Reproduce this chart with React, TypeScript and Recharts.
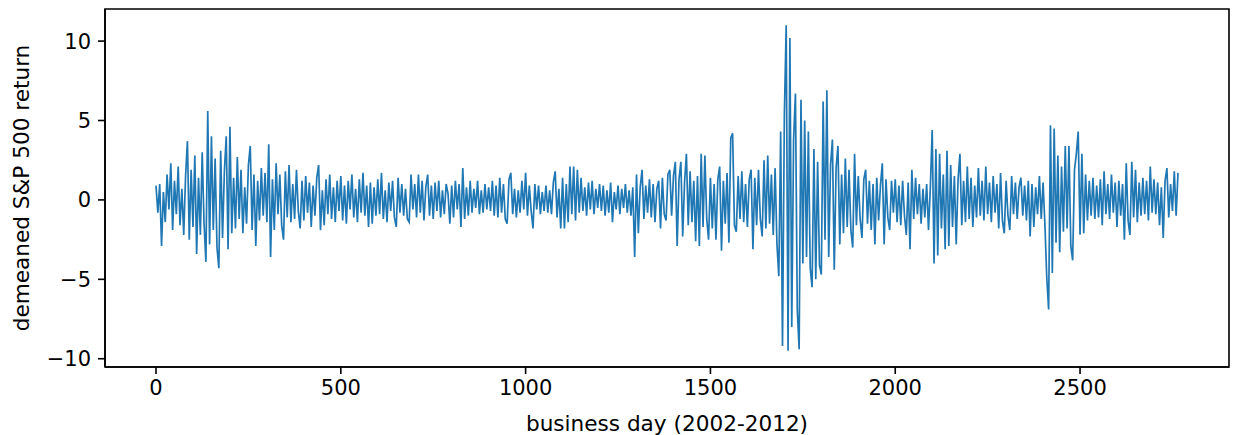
import { LineChart, Line, XAxis, YAxis, Label, ReferenceArea } from "recharts";

// one sample every 5 business days
const STEP = 5;

const returnsDays0to499 = [
  0.9, -0.8, 1.0, -2.9, 0.5, -1.4, 1.6, -0.6, 2.3, -1.9, 1.2, -0.9, 2.1, -1.6, 0.7, -2.2, 1.5, 3.7, -2.5, 1.9,
  -1.7, 2.8, -3.4, 1.4, -2.2, 3.0, -1.5, -3.9, 5.6, -2.8, 4.0, -1.9, 2.6, -3.0, -4.3, 3.1, -2.4, 1.8, 4.0, -3.1,
  4.6, -2.1, 1.4, -1.8, 2.7, -1.2, 1.9, -2.1, 0.8, -1.5, 2.2, 3.4, -1.9, 1.6, -2.9, 1.2, -1.3, 2.0, -1.0, 1.7,
  -1.4, 3.5, -3.6, 1.3, -1.9, 2.3, -0.9, 1.6, -1.6, -2.5, 1.8, -1.1, 2.2, -1.4, 1.0, -1.2, 1.9, -0.7, -1.8, 1.2,
  -1.3, 1.5, -0.8, 1.1, -1.7, 0.9, -1.0, 1.4, 2.2, -1.9, 0.6, -1.6, 1.3, -0.9, 1.6, -1.2, 0.8, -1.4, 1.2, -0.7,
];

const returnsDays500to999 = [
  1.5, -1.3, 0.9, -1.5, 1.2, -0.6, 1.6, -1.1, 0.7, -1.4, 1.3, -0.8, 1.7, -1.0, 0.9, -1.7, 1.1, -1.5, 0.8, -1.0,
  1.3, -0.9, 1.7, -1.2, 0.6, -1.4, 1.1, -0.7, 1.2, -1.1, -1.7, 1.4, -0.8, 1.0, -1.0, 0.7, -1.2, -1.4, 1.6, -0.6,
  1.0, -1.1, 1.6, -0.8, 1.2, -1.3, 0.8, 1.6, -1.0, 0.9, -1.2, 1.1, -0.7, 1.2, -1.1, 0.6, -0.9, 1.0, 0.4, -1.5,
  0.9, -1.1, 1.2, -0.6, 1.0, -1.7, 2.0, -1.2, 0.8, -1.0, 1.2, -0.8, 0.7, -0.5, 1.2, -0.9, 0.6, -0.8, 1.0, -0.6,
  0.8, -0.7, 1.2, -1.0, 0.9, -1.1, 1.4, -0.8, 1.0, -1.2, -1.5, 1.3, 1.7, -0.9, 0.7, -1.1, 0.6, -0.8, 1.2, -0.6,
];

const returnsDays1000to1499 = [
  1.7, -1.0, 0.9, -0.7, -1.8, 1.0, -0.6, 0.9, -0.9, 0.5, -0.7, 0.9, -0.8, 0.6, -0.9, 1.1, 1.8, -1.1, 0.7, -1.8,
  1.4, -1.8, 1.0, -1.4, 2.1, -0.9, 2.1, -1.3, 1.9, -0.8, 1.4, -0.7, 0.8, -1.0, 1.1, -0.6, 1.2, -0.9, 0.7, -0.5,
  1.0, -0.7, 0.9, -1.0, 0.6, -0.8, 1.1, -1.4, 0.5, -0.6, 0.9, -0.9, 0.7, -0.5, 1.0, -0.8, 0.6, -1.0, 0.8, -3.6,
  1.6, -2.1, 0.8, 1.9, -1.2, 0.9, -0.8, 1.3, -1.1, 1.0, -1.4, 0.7, 1.2, -1.8, 1.4, -0.9, -1.3, 1.6, 1.9, -1.0,
  1.5, 2.4, -2.9, 1.3, 2.4, -2.3, 1.1, 2.9, -1.6, 1.8, -1.4, 1.2, -2.6, 1.5, -2.9, 2.9, -1.7, 2.8, -1.2, -2.5,
];

const returnsDays1500to1999 = [
  1.4, -1.8, 1.0, -2.5, 1.3, 2.1, -3.2, 1.2, -1.5, 1.7, -2.7, 3.9, 4.2, -1.6, -2.0, 1.5, -1.2, 1.8, -1.4, 1.0,
  -1.7, 1.3, 1.9, -3.1, 1.4, -1.6, 1.9, -1.2, -2.3, 2.5, -1.8, 2.8, -1.5, 1.6, -2.2, 2.0, -2.8, -4.8, 4.3, -9.2,
  5.3, 11.0, -9.5, 10.2, -8.0, 3.8, 6.7, -6.9, -9.4, 6.3, -4.0, 5.0, -3.6, 4.3, -4.3, -5.5, 3.2, -5.0, 2.4, -4.1,
  -4.7, 6.2, -2.5, 6.9, -3.6, 2.2, 3.8, -4.4, 2.0, 3.4, -2.8, 1.6, -2.1, 2.6, -1.7, 1.9, -1.9, -3.0, 2.9, -1.6,
  1.5, -1.2, -2.4, 1.3, 1.9, -1.5, 1.2, -1.9, 1.0, -2.8, 1.4, -1.3, 0.9, 2.3, -2.8, 1.3, -1.1, -1.9, 1.2, -0.8,
];

const returnsDays2000to2499 = [
  1.3, -1.4, 0.9, -1.6, 1.2, -1.0, -2.2, 1.1, -3.1, 1.9, -1.2, 1.4, -0.9, 1.0, -1.5, 0.7, -1.1, 1.0, -1.9, 0.8,
  4.4, -4.0, 3.2, -3.5, 2.9, -1.8, 1.6, -3.1, 3.1, -2.9, 2.2, -1.7, 1.5, -2.8, 1.3, 2.9, -1.6, 1.2, -1.4, 2.1,
  -1.2, 1.4, -1.7, 0.9, -1.1, 2.0, -1.0, 1.2, -1.3, 2.1, -0.9, 1.1, -1.4, 1.5, -0.8, 1.0, -1.8, 1.7, -1.3, -2.1,
  1.2, -1.0, -1.9, 1.5, -0.9, 1.1, -1.2, 0.8, 1.4, -1.0, 0.9, -1.3, 1.2, -2.3, 1.0, -1.7, 0.8, -0.9, 1.5, -1.2,
  1.1, -1.6, -4.9, -6.9, 4.7, -4.6, 4.5, -2.7, 2.8, -3.3, 2.1, -2.0, 3.4, -1.8, 3.4, -2.9, -3.8, 1.9, 2.9, 4.3,
];

const returnsDays2500to2765 = [
  -2.2, 2.9, -2.1, 1.6, -1.3, 1.2, -1.0, 1.4, -1.2, 0.9, -1.1, 1.3, -1.6, 1.8, -0.9, 1.0, -1.2, 1.6, -0.8, 1.1,
  -1.7, 1.2, -1.0, 1.0, -2.5, 2.3, -1.3, -2.2, 2.4, -1.1, 1.9, -1.4, 1.1, -1.0, 1.4, -0.9, 1.2, -1.3, 2.1, -0.8,
  1.3, -0.9, 1.1, -1.6, 0.8, -2.4, 1.2, 2.0, -1.1, 1.0, -0.7, 1.8, -1.0, 1.7,
];

const xTicks = [0, 500, 1000, 1500, 2000, 2500];
const yTicks = [-10, -5, 0, 5, 10];

const allReturns = [
  ...returnsDays0to499,
  ...returnsDays500to999,
  ...returnsDays1000to1499,
  ...returnsDays1500to1999,
  ...returnsDays2000to2499,
  ...returnsDays2500to2765,
];

const data = allReturns.map((r, i) => ({ day: i * STEP, r }));

const X_DOMAIN: [number, number] = [-138, 2903];
const Y_DOMAIN: [number, number] = [-10.52, 12.02];

const FONT = "DejaVu Sans";
const minus = (v: number) => String(v).replace("-", "\u2212");

export default function App() {
  const tickStyle = { fill: "#000", fontSize: 21, fontFamily: FONT };
  return (
    <div style={{ position: "absolute", left: 0, top: 0, background: "#fff" }}>
      <LineChart
        width={1233}
        height={435}
        data={data}
        margin={{ top: 9, right: 4, bottom: 38, left: 0 }}
        style={{ fontFamily: FONT }}
      >
        <XAxis
          dataKey="day"
          type="number"
          domain={X_DOMAIN}
          allowDataOverflow
          ticks={xTicks}
          height={30}
          tickSize={7}
          tickMargin={6}
          stroke="#000"
          strokeWidth={1.6}
          tick={tickStyle}
          label={
            <Label
              content={() => (
                <text x={667} y={431} textAnchor="middle" fontSize={21.6} fontFamily={FONT} fill="#000">
                  business day (2002-2012)
                </text>
              )}
            />
          }
        />
        <YAxis
          type="number"
          domain={Y_DOMAIN}
          allowDataOverflow
          ticks={yTicks}
          width={105}
          tickSize={7}
          tickMargin={7}
          stroke="#000"
          strokeWidth={1.6}
          tick={tickStyle}
          tickFormatter={minus}
          label={
            <Label
              content={() => (
                <text
                  x={29}
                  y={188}
                  transform="rotate(-90 29 188)"
                  textAnchor="middle"
                  fontSize={21.6}
                  fontFamily={FONT}
                  fill="#000"
                >
                  demeaned S&amp;P 500 return
                </text>
              )}
            />
          }
        />
        <Line
          type="linear"
          dataKey="r"
          stroke="#1f77b4"
          strokeWidth={1.7}
          dot={false}
          isAnimationActive={false}
        />
        <ReferenceArea
          x1={X_DOMAIN[0]}
          x2={X_DOMAIN[1]}
          y1={Y_DOMAIN[0]}
          y2={Y_DOMAIN[1]}
          fill="none"
          fillOpacity={0}
          stroke="#000"
          strokeWidth={1.6}
          strokeOpacity={1}
          ifOverflow="visible"
        />
      </LineChart>
    </div>
  );
}
